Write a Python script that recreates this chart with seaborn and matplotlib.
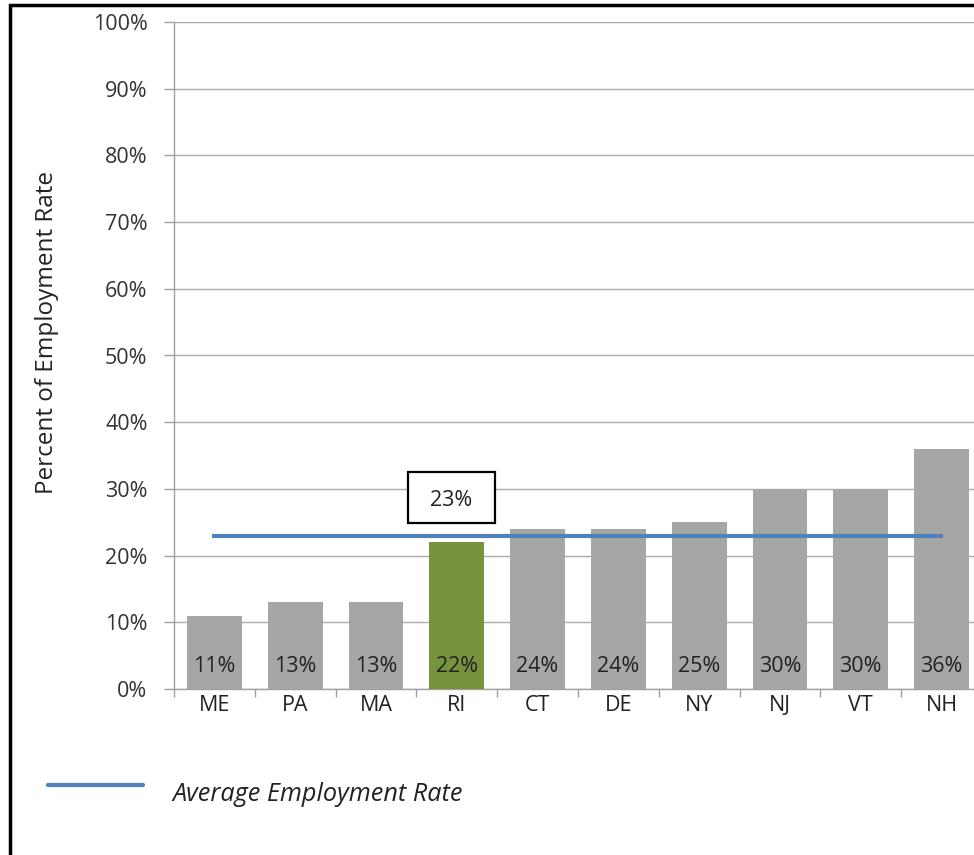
import numpy as np
import pandas as pd
import matplotlib
matplotlib.use("Agg")
import matplotlib.pyplot as plt
from matplotlib.patches import Rectangle
from matplotlib.lines import Line2D
import seaborn as sns

sns.set_theme(style="white")
plt.rcParams['font.family'] = ['Open Sans', 'DejaVu Sans']

# data
states = ["ME", "PA", "MA", "RI", "CT", "DE", "NY", "NJ", "VT", "NH"]
rates = [11, 13, 13, 22, 24, 24, 25, 30, 30, 36]
avg_rate = 23
highlight = "RI"

gray = "#A6A6A6"
green = "#77933C"
blue = "#4F81BD"
txt = "#222222"

df = pd.DataFrame({"state": states, "rate": rates})
pal = {s: (green if s == highlight else gray) for s in states}

fig = plt.figure(figsize=(9.74, 8.55), dpi=100)
ax = fig.add_axes([174 / 974, 166 / 855, 808 / 974, 667 / 855])

sns.barplot(data=df, x="state", y="rate", hue="state", palette=pal,
            legend=False, width=0.68, saturation=1, linewidth=0,
            ax=ax, zorder=3)

# average line
ax.plot([-0.03, 9.02], [avg_rate, avg_rate], color=blue, lw=3, zorder=4,
        solid_capstyle="butt")

# value labels inside the bars
for i, v in enumerate(rates):
    ax.text(i, 3.4, f"{v}%", ha="center", va="center", fontsize=15.5,
            color=txt, zorder=5)

ax.set_xlim(-0.5, 9.5)
ax.set_ylim(0, 100)
ax.set_yticks(np.arange(0, 101, 10))
ax.set_yticklabels([f"{t}%" for t in range(0, 101, 10)], fontsize=15.5,
                   color="#333333")
ax.yaxis.grid(True, color="#ABABAB", lw=1, zorder=0)
ax.set_axisbelow(True)
ax.set_xlabel("")
ax.set_ylabel("")
ax.tick_params(axis="y", left=True, length=7, color="#A0A0A0", width=1, pad=12)
ax.set_xticks(range(len(states)))
ax.set_xticklabels(states, fontsize=15.5, color=txt)
ax.tick_params(axis="x", bottom=False, length=0, pad=4)
ax.set_xticks(np.arange(-0.5, 9.6, 1), minor=True)
ax.tick_params(axis="x", which="minor", bottom=True, length=6,
               color="#A0A0A0", width=1)
for side in ["top", "right"]:
    ax.spines[side].set_visible(False)
for side in ["left", "bottom"]:
    ax.spines[side].set_color("#A0A0A0")
    ax.spines[side].set_linewidth(1)

# average value box
fig.add_artist(Rectangle((408 / 974, (855 - 523) / 855), 87 / 974, 51 / 855,
                         transform=fig.transFigure, fc="white", ec="black",
                         lw=1.6, zorder=6))
fig.text(451.5 / 974, (855 - 500) / 855, f"{avg_rate}%", ha="center",
         va="center", fontsize=15.5, color=txt, zorder=7)

fig.text(47 / 974, (855 - 333) / 855, "Percent of Employment Rate",
         rotation=90, ha="center", va="center", fontsize=17.5, color=txt)

# legend
fig.add_artist(Line2D([48 / 974, 143 / 974], [(855 - 785) / 855] * 2,
                      color=blue, lw=3, transform=fig.transFigure))
fig.text(172 / 974, (855 - 794) / 855, "Average Employment Rate",
         style="italic", ha="left", va="center", fontsize=18.2, color=txt)

# outer frame
fig.add_artist(Rectangle((10 / 974, -0.1), 1.2, (855 - 5) / 855 + 0.1,
                         transform=fig.transFigure, fill=False,
                         ec="black", lw=2.5))

fig.savefig("out.png", dpi=100)
